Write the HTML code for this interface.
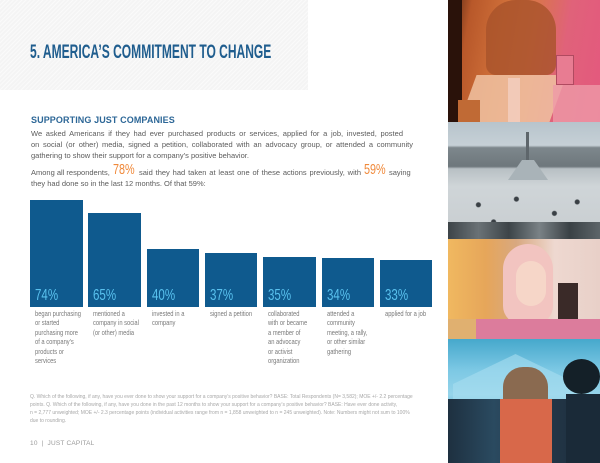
<!DOCTYPE html>
<html><head><meta charset="utf-8">
<style>
*{margin:0;padding:0;box-sizing:border-box}
html,body{width:600px;height:463px;overflow:hidden;background:#fff}
body{position:relative;font-family:"Liberation Sans",sans-serif}
.a{position:absolute;white-space:nowrap;line-height:1}
.hdr{position:absolute;left:0;top:0;width:308px;height:90px;background:#f4f4f4;
 background-image:repeating-linear-gradient(135deg,rgba(255,255,255,.55) 0 1px,rgba(0,0,0,0) 1px 3px)}
.title{left:30px;top:42.5px;font-size:19.5px;font-weight:bold;color:#1f5d8e;transform:scaleX(.617);transform-origin:0 0}
.h2{left:31px;top:116px;font-size:9px;font-weight:bold;color:#2d6797;letter-spacing:.1px}
.p{font-size:7.5px;color:#5c5c5c}
.j{text-align:justify;text-align-last:justify;white-space:normal;overflow:hidden;height:9px}
.org{color:#f0893a;font-size:15px;display:inline-block;transform:scaleX(.72);transform-origin:0 0}
.bar{position:absolute;background:#0f5a8e;bottom:156px;width:52.5px}
.pct{position:absolute;top:288px;font-size:15.4px;color:#59c1ee;line-height:1;transform:scaleX(.75);transform-origin:0 0;white-space:nowrap}
.lab{position:absolute;top:308.6px;font-size:7.5px;line-height:9.5px;color:#7a7a7a;transform:scaleX(.77);transform-origin:0 0;white-space:nowrap}
.fn{position:absolute;left:30px;font-size:5px;color:#a8a8a8;line-height:1;white-space:nowrap}
.img{position:absolute;left:448px;width:152px;overflow:hidden}
</style></head><body>
<div class="hdr"></div>
<div class="a title">5. AMERICA’S COMMITMENT TO CHANGE</div>

<div class="a h2">SUPPORTING JUST COMPANIES</div>
<div class="a p j" style="left:31px;top:130.2px;width:372px">We asked Americans if they had ever purchased products or services, applied for a job, invested, posted</div>
<div class="a p j" style="left:31px;top:141px;width:382px">on social (or other) media, signed a petition, collaborated with an advocacy group, or attended a community</div>
<div class="a p" style="left:31px;top:152.2px">gathering to show their support for a company’s positive behavior.</div>
<div class="a p" style="left:31px;top:168.7px">Among all respondents,</div>
<div class="a org" style="left:113px;top:162px">78%</div>
<div class="a p j" style="left:139px;top:168.7px;width:222px">said they had taken at least one of these actions previously, with</div>
<div class="a org" style="left:364px;top:162px">59%</div>
<div class="a p" style="left:389px;top:168.7px">saying</div>
<div class="a p" style="left:31px;top:179.5px">they had done so in the last 12 months. Of that 59%:</div>

<div class="bar" style="left:30px;top:200px"></div>
<div class="bar" style="left:88.3px;top:213px"></div>
<div class="bar" style="left:146.6px;top:249px"></div>
<div class="bar" style="left:204.9px;top:253px"></div>
<div class="bar" style="left:263.2px;top:257px"></div>
<div class="bar" style="left:321.5px;top:258px"></div>
<div class="bar" style="left:379.8px;top:260px"></div>

<div class="pct" style="left:35px">74%</div>
<div class="pct" style="left:93.3px">65%</div>
<div class="pct" style="left:151.6px">40%</div>
<div class="pct" style="left:209.9px">37%</div>
<div class="pct" style="left:268.2px">35%</div>
<div class="pct" style="left:326.5px">34%</div>
<div class="pct" style="left:384.8px">33%</div>

<div class="lab" style="left:35px">began purchasing<br>or started<br>purchasing more<br>of a company’s<br>products or<br>services</div>
<div class="lab" style="left:93.3px">mentioned a<br>company in social<br>(or other) media</div>
<div class="lab" style="left:151.6px">invested in a<br>company</div>
<div class="lab" style="left:209.9px">signed a petition</div>
<div class="lab" style="left:268.2px">collaborated<br>with or became<br>a member of<br>an advocacy<br>or activist<br>organization</div>
<div class="lab" style="left:326.5px">attended a<br>community<br>meeting, a rally,<br>or other similar<br>gathering</div>
<div class="lab" style="left:384.8px">applied for a job</div>

<div class="fn" style="top:394.5px">Q. Which of the following, if any, have you ever done to show your support for a company’s positive behavior? BASE: Total Respondents (N= 3,582); MOE +/- 2.2 percentage</div>
<div class="fn" style="top:402.8px">points. Q. Which of the following, if any, have you done in the past 12 months to show your support for a company’s positive behavior? BASE: Have ever done activity,</div>
<div class="fn" style="top:411.1px">n = 2,777 unweighted; MOE +/- 2.3 percentage points (individual activities range from n = 1,858 unweighted to n = 245 unweighted). Note: Numbers might not sum to 100%</div>
<div class="fn" style="top:419.4px">due to rounding.</div>

<div class="a" style="left:30px;top:441px;font-size:6.5px;color:#9a9a9a;letter-spacing:.2px">10 &nbsp;|&nbsp; JUST CAPITAL</div>

<!-- image 1 -->
<div class="img" style="top:0;height:122px;background:linear-gradient(100deg,#4a2210 0%,#b8582a 14%,#d0703a 35%,#d9744e 52%,#e0627a 72%,#e4587e 100%)">
 <div style="position:absolute;left:0;top:0;width:14px;height:122px;background:#2a120a"></div>
 <div style="position:absolute;left:38px;top:0;width:70px;height:75px;background:#a8522a;border-radius:30px 30px 10px 10px;opacity:.8"></div>
 <div style="position:absolute;left:20px;top:75px;width:90px;height:47px;background:#f0c2a2;opacity:.85;transform:skewX(-20deg)"></div>
 <div style="position:absolute;left:10px;top:100px;width:22px;height:22px;background:#c06a35"></div>
 <div style="position:absolute;left:108px;top:55px;width:18px;height:30px;background:#e87c92;border:1px solid #b04a60"></div>
 <div style="position:absolute;left:105px;top:85px;width:47px;height:37px;background:#ee9aa8;opacity:.8"></div>
 <div style="position:absolute;left:60px;top:78px;width:12px;height:44px;background:#f4d0c0;opacity:.8"></div>
</div>
<!-- image 2 -->
<div class="img" style="top:122px;height:117px;background:linear-gradient(180deg,#b7c4cc 0%,#c6d0d6 20%,#7d878c 22%,#6e777c 38%,#b8c0c4 40%,#cfd5d8 55%,#c8cdd0 100%)">
 <div style="position:absolute;left:78px;top:10px;width:3px;height:30px;background:#5e666b"></div>
 <div style="position:absolute;left:60px;top:38px;width:40px;height:20px;background:#a9b3b8;clip-path:polygon(35% 0,65% 0,100% 100%,0 100%)"></div>
 <div style="position:absolute;left:0;top:60px;width:152px;height:57px;background:radial-gradient(circle at 20% 40%,#3a4045 0 2px,transparent 3px),radial-gradient(circle at 45% 30%,#3a4045 0 2px,transparent 3px),radial-gradient(circle at 70% 55%,#3a4045 0 2px,transparent 3px),radial-gradient(circle at 85% 35%,#3a4045 0 2px,transparent 3px),radial-gradient(circle at 30% 70%,#3a4045 0 2px,transparent 3px),radial-gradient(circle at 60% 75%,#3a4045 0 2px,transparent 3px)"></div>
 <div style="position:absolute;left:0;top:100px;width:152px;height:17px;background:linear-gradient(90deg,#3d4448,#6a7276 20%,#3d4448 40%,#7a8286 60%,#3a4145 80%,#5d6569)"></div>
</div>
<!-- image 3 -->
<div class="img" style="top:239px;height:100px;background:linear-gradient(90deg,#f0b860 0%,#e6a65a 25%,#d8a880 45%,#eed8d0 70%,#e8d0c8 100%)">
 <div style="position:absolute;left:55px;top:5px;width:50px;height:80px;background:#f2c4c0;border-radius:25px 25px 18px 18px"></div>
 <div style="position:absolute;left:68px;top:22px;width:30px;height:45px;background:#f6d6c8;border-radius:15px"></div>
 <div style="position:absolute;left:110px;top:44px;width:20px;height:45px;background:#3a2a28"></div>
 <div style="position:absolute;left:28px;top:80px;width:124px;height:20px;background:#dc7c9c"></div>
 <div style="position:absolute;left:0;top:80px;width:28px;height:20px;background:#e0b070"></div>
</div>
<!-- image 4 -->
<div class="img" style="top:339px;height:124px;background:linear-gradient(180deg,#46a8cc 0%,#7cc8e4 25%,#96d4ea 45%,#5cb2d2 60%,#2e6a88 100%)">
 <div style="position:absolute;left:5px;top:15px;width:125px;height:50px;background:#a8def0;opacity:.6;clip-path:polygon(50% 0,100% 60%,100% 100%,0 100%,0 60%)"></div>
 <div style="position:absolute;left:0;top:60px;width:152px;height:64px;background:linear-gradient(90deg,#1e3040,#2a4a60 30%,#24384a 60%,#1c2c3a)"></div>
 <div style="position:absolute;left:55px;top:28px;width:45px;height:96px;background:#8a6a50;border-radius:20px 20px 0 0"></div>
 <div style="position:absolute;left:52px;top:60px;width:52px;height:64px;background:#d8684a"></div>
 <div style="position:absolute;left:115px;top:20px;width:37px;height:35px;background:#142028;border-radius:50%"></div>
 <div style="position:absolute;left:118px;top:55px;width:34px;height:69px;background:#1a2a38"></div>
</div>
</body></html>
